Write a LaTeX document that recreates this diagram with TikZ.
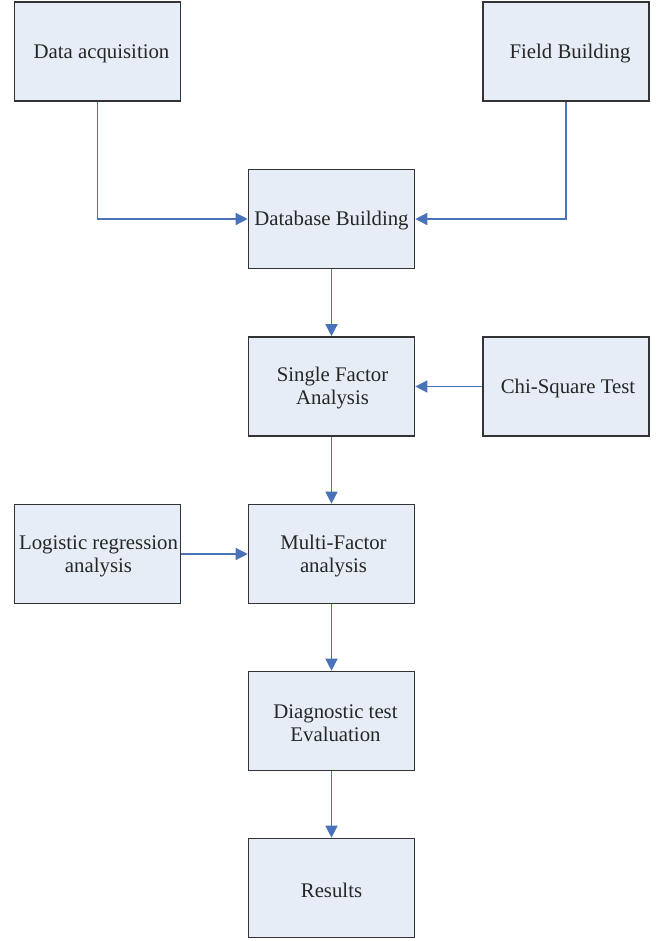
\documentclass[tikz,border=0pt]{standalone}
\usepackage{fontspec}
\setmainfont{Liberation Serif}
\usetikzlibrary{arrows.meta}
\definecolor{boxfill}{HTML}{E7EDF6}
\definecolor{boxline}{HTML}{333333}
\definecolor{arrowblue}{HTML}{4A72B8}
\begin{document}
\begin{tikzpicture}[x=1pt,y=-1pt,
  box/.style={draw=boxline, fill=boxfill, line width=1.6pt, minimum width=166pt, minimum height=99pt, inner sep=2pt},
  lbl/.style={align=center, font=\fontsize{20.8}{23}\selectfont, text=black!85, inner sep=0pt},
  conn/.style={draw=arrowblue, line width=1.4pt, -{Triangle[length=12pt,width=12pt]}}]
\useasboundingbox (0,0) rectangle (659,941);
\node[box] (data) at (97.5,51.5) {};
\node[box] (field) at (566,51.5) {};
\node[box] (db) at (331.5,219) {};
\node[box] (single) at (331.5,386.5) {};
\node[box] (chi) at (566,386.5) {};
\node[box] (logit) at (97.5,554) {};
\node[box] (multi) at (331.5,554) {};
\node[box] (diag) at (331.5,721) {};
\node[box] (res) at (331.5,888) {};
\node[lbl] (tdata) at ([shift={(4,2)}]data.center) {Data acquisition};
\node[lbl] (tfield) at ([shift={(4,2)}]field.center) {Field Building};
\node[lbl] (tdb) at ([shift={(0,2)}]db.center) {Database Building};
\node[lbl] (tsingle) at ([shift={(1,2)}]single.center) {Single Factor\\Analysis};
\node[lbl] (tchi) at ([shift={(2,2)}]chi.center) {Chi-Square Test};
\node[lbl] (tlogit) at ([shift={(1,2)}]logit.center) {Logistic regression\\analysis};
\node[lbl] (tmulti) at ([shift={(2,2)}]multi.center) {Multi-Factor\\analysis};
\node[lbl] (tdiag) at ([shift={(4,2)}]diag.center) {Diagnostic test\\Evaluation};
\node[lbl] (tres) at ([shift={(0,2)}]res.center) {Results};
\draw[conn] (data.south) |- (db.west);
\draw[conn] (field.south) |- (db.east);
\draw[conn] (db) -- (single);
\draw[conn] (chi) -- (single);
\draw[conn] (single) -- (multi);
\draw[conn] (logit) -- (multi);
\draw[conn] (multi) -- (diag);
\draw[conn] (diag) -- (res);
\end{tikzpicture}
\end{document}
